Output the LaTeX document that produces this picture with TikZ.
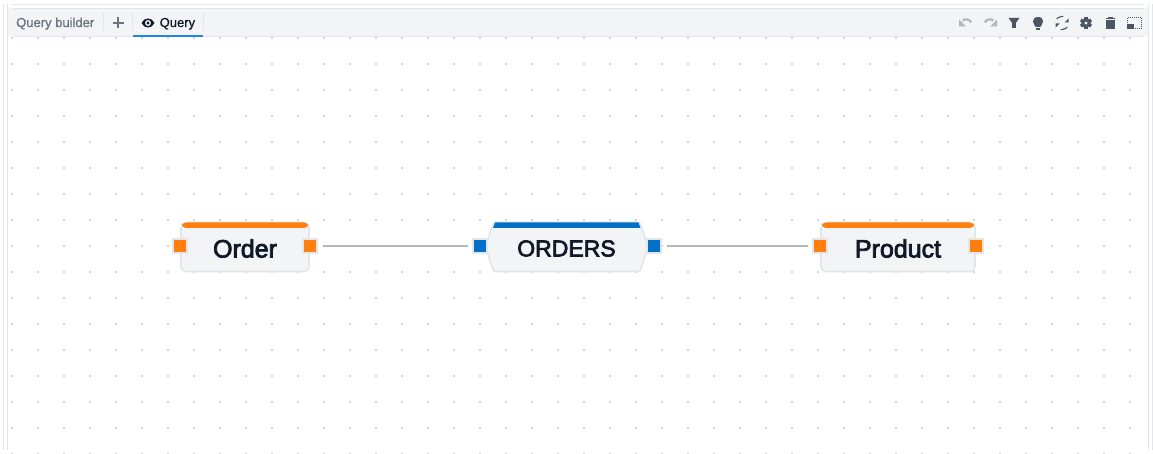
\documentclass[tikz,border=0pt]{standalone}
\usepackage{fontspec}
\setmainfont{Liberation Sans}
\newfontfamily\labelfont[FakeBold=3]{Liberation Sans}
\newfontfamily\tabfont[FakeBold=0.8]{Liberation Sans}
\usetikzlibrary{positioning}
\definecolor{panelline}{HTML}{E3E5E8}
\definecolor{barfill}{HTML}{F3F4F6}
\definecolor{griddot}{HTML}{D2D4D7}
\definecolor{tabblue}{HTML}{1B87E3}
\definecolor{entblue}{HTML}{0070C9}
\definecolor{entorange}{HTML}{FF7F0E}
\definecolor{linkgrey}{HTML}{B6B6B6}
\definecolor{icondark}{HTML}{4B5563}
\definecolor{iconlight}{HTML}{B4B8BE}
\definecolor{inkdark}{HTML}{111827}
\definecolor{inkgrey}{HTML}{6B7280}
\tikzset{
  shorten >=4.5pt, shorten <=4.5pt,
  entity/.style={draw=panelline, line width=1.6pt, fill=barfill, rounded corners=5pt},
  title/.style={font=\labelfont\fontsize{25}{25}\selectfont, text=inkdark, inner sep=0pt},
  port/.style={draw=panelline, line width=1.6pt, minimum size=14.4pt, inner sep=0pt},
  orangeport/.style={port, fill=entorange},
  blueport/.style={port, fill=entblue},
  link/.style={draw=linkgrey, line width=2.2pt},
  tablabel/.style={font=\tabfont\fontsize{13}{13}\selectfont, inner sep=0pt},
  icon/.style={fill=icondark, draw=none},
  iconpale/.style={draw=iconlight, line width=2.2pt},
}
\begin{document}
\begin{tikzpicture}[x=1pt, y=-1pt]
    \useasboundingbox (0, 0) rectangle (1153, 454);
    \fill[white] (0, 0) rectangle (1153, 454);
    % outer panel
    \draw[panelline, line width=1.2pt] (3.5, 0) -- (3.5, 454);
    \draw[panelline, line width=1.2pt] (7.5, 0) -- (7.5, 454);
    \draw[panelline, line width=1.2pt] (1148.5, 0) -- (1148.5, 454);
    \draw[panelline, line width=1.2pt] (1152.5, 0) -- (1152.5, 454);
    \draw[panelline, line width=1.2pt] (7.5, 4.5) -- (1148.5, 4.5);
    % dots
    \foreach \i in {0, ..., 43}
      \foreach \j in {0, ..., 16}
        \fill[griddot] ({12+26*\i-0.8}, {38+26*\j-0.8}) rectangle +(1.6, 1.6);
    % tab bar
    \fill[barfill] (8, 8.5) rectangle (1148, 36);
    \draw[panelline, line width=1.2pt] (8, 8.5) -- (1148, 8.5);
    \draw[panelline, line width=1.2pt] (8, 36.5) -- (1148, 36.5);
    \draw[panelline, line width=1.2pt] (103.5, 9) -- (103.5, 36);
    \draw[panelline, line width=1.2pt] (132.5, 9) -- (132.5, 36);
    \draw[panelline, line width=1.2pt] (203.5, 9) -- (203.5, 36);
    \fill[tabblue] (133, 35) rectangle (203, 37);
    \node[tablabel, text=inkgrey, anchor=base west] (builder) at (16, 27) {Query builder};
    \fill[inkgrey] (117.2, 17.5) rectangle (118.8, 28.5);
    \fill[inkgrey] (112.5, 22.2) rectangle (123.5, 23.8);
    \node[tablabel, text=inkdark, anchor=base west] (query) at (159.5, 27) {Query};
    % eye
    \fill[inkdark, even odd rule] (141.5, 23) .. controls (144, 17) and (152, 17) .. (154.5, 23) .. controls (152, 29) and (144, 29) .. (141.5, 23) (148, 23) circle (3.1);
    \fill[inkdark] (148, 23) circle (1.6);
    % undo, redo
    \draw[iconpale] (960.5, 24.5) .. controls (964, 18.5) and (970, 19) .. (972.7, 26.7);
    \fill[iconlight] (959, 19.5) -- (959, 26.5) -- (966, 26.5) -- cycle;
    \draw[iconpale] (995.5, 24.5) .. controls (992, 18.5) and (986, 19) .. (983.3, 26.7);
    \fill[iconlight] (997, 19.5) -- (997, 26.5) -- (990, 26.5) -- cycle;
    % filter
    \fill[icon] (1008.5, 18) -- (1019.5, 18) -- (1015.8, 23) -- (1015.8, 28) -- (1012.2, 28) -- (1012.2, 23) -- cycle;
    % bulb
    \fill[icon] (1038, 17) .. controls (1034, 17) and (1033, 19.5) .. (1033, 21.5) .. controls (1033, 24.5) and (1035.3, 25) .. (1035.6, 27) -- (1040.4, 27) .. controls (1040.7, 25) and (1043, 24.5) .. (1043, 21.5) .. controls (1043, 19.5) and (1042, 17) .. (1038, 17) -- cycle;
    \fill[icon] (1035.8, 28) rectangle (1040.2, 30);
    % sync
    \draw[icondark, line width=1.1pt] (1056.8, 23.5) .. controls (1056.8, 17.5) and (1063, 16) .. (1066, 20);
    \draw[icondark, line width=1.1pt] (1067.2, 22.5) .. controls (1067.2, 28.5) and (1061, 30) .. (1058, 26);
    \fill[icon] (1068.5, 18.5) -- (1068.5, 22.5) -- (1064.5, 22.5) -- cycle;
    \fill[icon] (1055.5, 27.5) -- (1055.5, 23.5) -- (1059.5, 23.5) -- cycle;
    % gear
    \fill[icon, even odd rule] (1086, 23) circle (4.8) (1086, 23) circle (1.9);
    \foreach \a in {0, 60, ..., 300}
      \fill[icondark, rotate around={\a:(1086, 23)}] (1084.4, 17) rectangle (1087.6, 20);
    % trash
    \fill[icon] (1106, 20) rectangle (1114.5, 29.3);
    \fill[icon] (1105.5, 18) rectangle (1115, 19.2);
    \fill[icon] (1108, 17) rectangle (1112.5, 18);
    % selection box
    \draw[icondark, line width=1pt, densely dotted] (1127, 18) rectangle (1141.5, 28.5);
    \fill[icon] (1127, 24) rectangle (1134, 29);
    % Order
    \path[entity] (181, 222.5) rectangle (309, 271.5);
    \fill[entorange, rounded corners=4pt] (182, 228) -- (182, 222.5) -- (308, 222.5) -- (308, 228) -- cycle;
    \node[title] (order) at (245, 248.5) {Order};
    \node[orangeport] (orderin) at (180, 246) {};
    \node[orangeport] (orderout) at (310, 246) {};
    % ORDERS
    \path[entity, rounded corners=1.5pt] (493.5, 222.5) -- (640, 222.5) -- (648, 247) -- (640, 271.5) -- (493.5, 271.5) -- (485.5, 247) -- cycle;
    \fill[entblue] (495, 222.5) -- (638.5, 222.5) -- (640.5, 228) -- (493, 228) -- cycle;
    \node[title, font=\labelfont\fontsize{23}{23}\selectfont] (orders) at (566.5, 248.5) {ORDERS};
    \node[blueport] (ordersin) at (480, 246) {};
    \node[blueport] (ordersout) at (654, 246) {};
    % Product
    \path[entity] (821, 222.5) rectangle (975, 271.5);
    \fill[entorange, rounded corners=4pt] (822, 228) -- (822, 222.5) -- (974, 222.5) -- (974, 228) -- cycle;
    \node[title] (product) at (898, 248.5) {Product};
    \node[orangeport] (productin) at (820, 246) {};
    \node[orangeport] (productout) at (976, 246) {};
    \path[link]
    	(orderout) edge (ordersin)
    	(ordersout) edge (productin)
    	;
\end{tikzpicture}
\end{document}
